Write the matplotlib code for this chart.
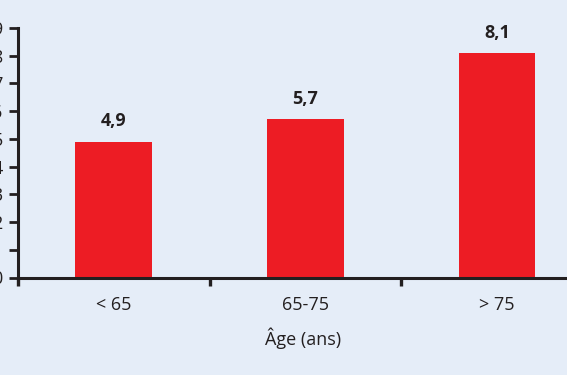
import matplotlib.pyplot as plt
from matplotlib.ticker import FixedLocator, NullFormatter

# Data
categories = ["< 65", "65-75", "> 75"]
values = [4.9, 5.7, 8.1]
value_labels = ["4,9", "5,7", "8,1"]
y_ticks = list(range(0, 10))

bg = "#e5edf8"
red = "#ed1c24"
ink = "#231f20"

plt.rcParams['font.family'] = ['Open Sans', 'DejaVu Sans']

fig = plt.figure(figsize=(5.67, 3.75), dpi=100, facecolor=bg)
ax = fig.add_axes([18 / 567, 97.5 / 375, 1 - 18 / 567, 249.5 / 375])
ax.set_facecolor(bg)

x = list(range(len(categories)))
bars = ax.bar(x, values, width=0.40, color=red, zorder=2)

# value labels above bars
for xi, v, lab in zip(x, values, value_labels):
    ax.annotate(lab, (xi, v), xytext=(0, 11), textcoords="offset points",
                ha="center", va="baseline", fontsize=13, fontweight="bold",
                color=ink, annotation_clip=False)

ax.set_xlim(-0.5, 2.365)
ax.set_ylim(0, 9)

for s in ["top", "right"]:
    ax.spines[s].set_visible(False)
for s in ["left", "bottom"]:
    ax.spines[s].set_linewidth(2.2)
    ax.spines[s].set_color(ink)

# y axis (labels mostly outside the figure, as in the source crop)
ax.set_yticks(y_ticks)
ax.tick_params(axis="y", direction="out", length=6.5, width=2, color=ink,
               labelsize=13, labelcolor=ink, pad=4.5)

# x axis: ticks on group boundaries, labels on group centers
ax.xaxis.set_major_locator(FixedLocator([-0.5, 0.5, 1.5]))
ax.xaxis.set_major_formatter(NullFormatter())
ax.xaxis.set_minor_locator(FixedLocator(x))
ax.set_xticklabels(categories, minor=True)
ax.tick_params(axis="x", which="major", direction="out", length=6, width=2.4, color=ink)
ax.tick_params(axis="x", which="minor", length=0, labelsize=13, labelcolor=ink, pad=13)

ax.set_xlabel("Âge (ans)", fontsize=13, color=ink, labelpad=10)
ax.xaxis.label.set_x((302.8 - 18) / 549)

fig.savefig("out.png", dpi=100, facecolor=bg)
